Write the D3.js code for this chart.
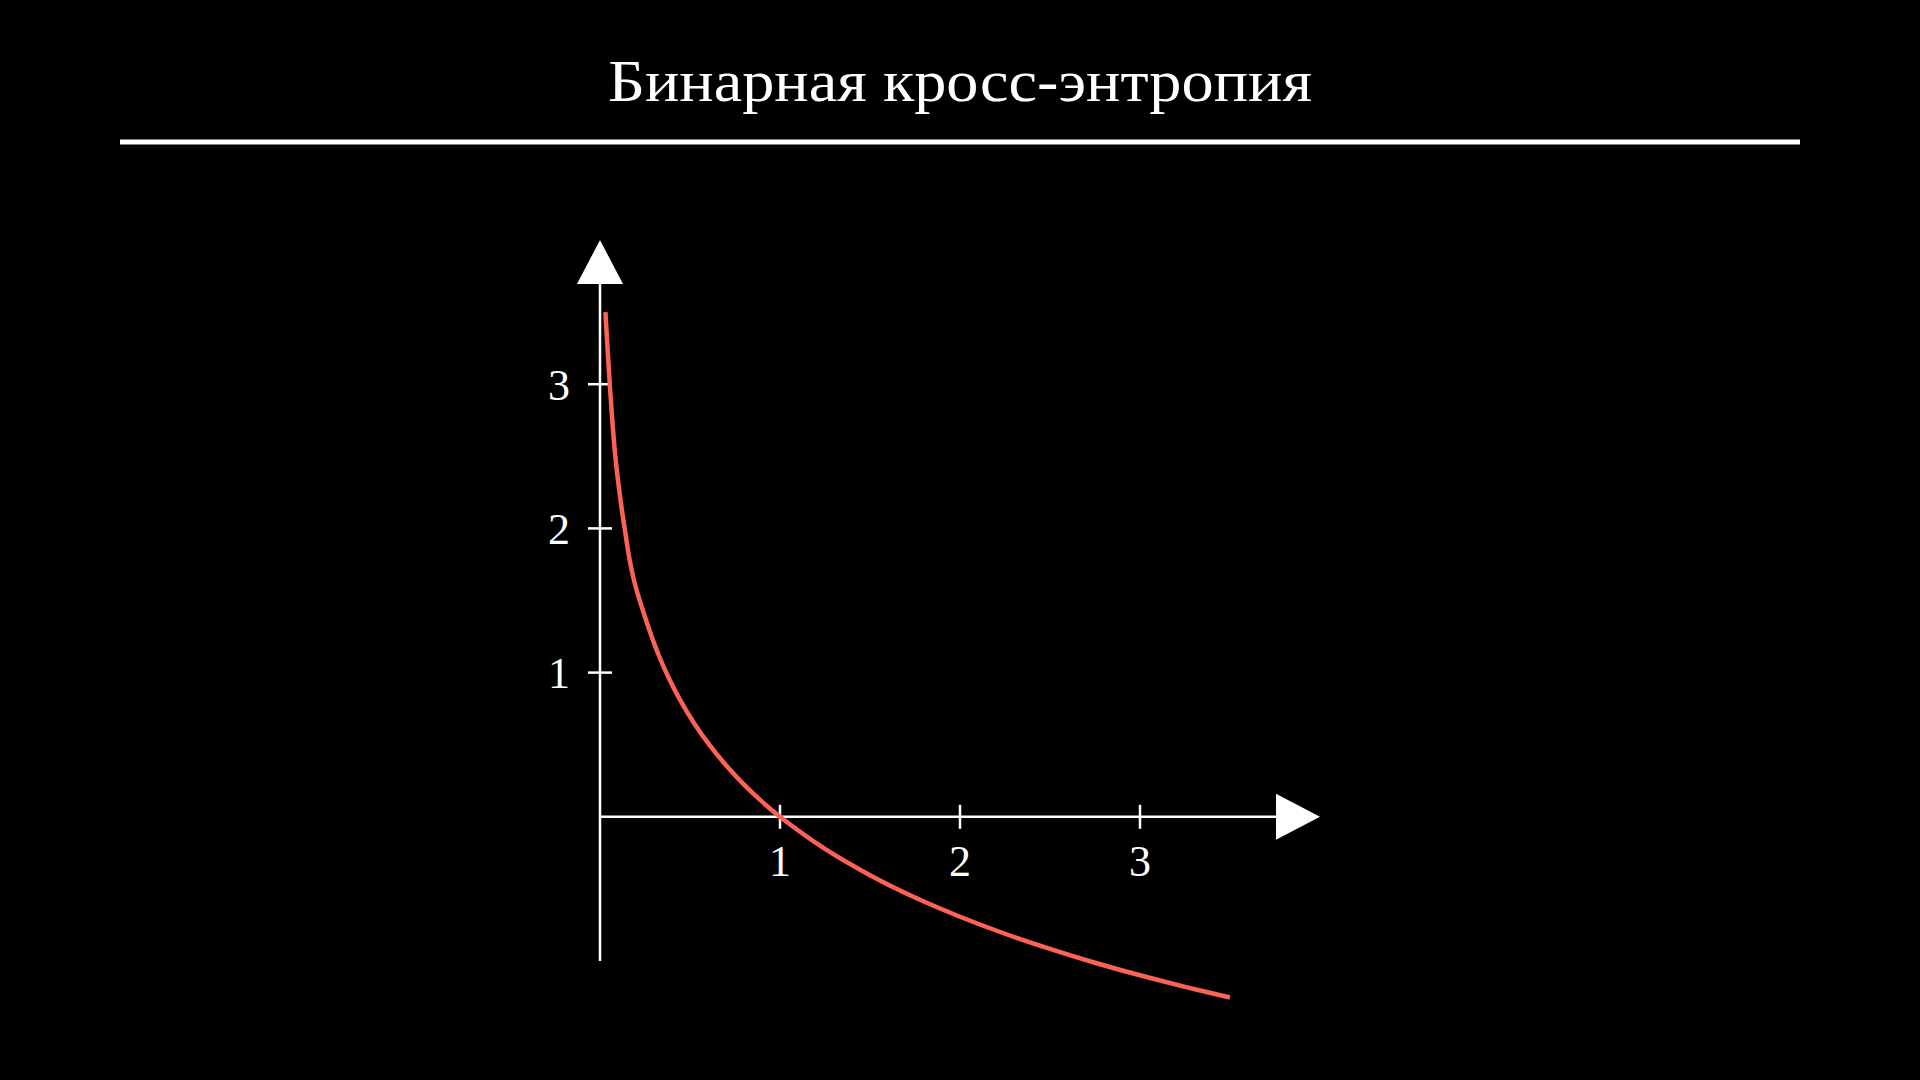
<!DOCTYPE html>
<html>
<head>
<meta charset="utf-8">
<script src="https://cdn.jsdelivr.net/npm/d3@7"></script>
<style>
  html, body { margin: 0; padding: 0; background: #000; }
  svg { display: block; }
  text { font-family: "Liberation Serif", "DejaVu Serif", serif; fill: #fff; }
</style>
</head>
<body>
<div id="chart"></div>
<script>
// values
var titleText = "Бинарная кросс-энтропия";
var xTicks = [1, 2, 3];
var yTicks = [1, 2, 3];
var xDomain = [0, 4];
var yDomain = [-1, 4];
var curveX = [0.03, 0.057, 0.085, 0.118, 0.137, 0.165, 0.193, 0.25, 0.324, 0.38, 0.444, 0.52, 0.611, 0.70, 0.796, 0.9, 1.0, 1.25, 1.5, 1.75, 2.0, 2.25, 2.5, 2.75, 3.0, 3.25, 3.5];
var curveY = [3.50, 2.95, 2.50, 2.16, 2.00, 1.78, 1.62, 1.386, 1.127, 0.968, 0.812, 0.654, 0.493, 0.357, 0.228, 0.105, 0.0, -0.223, -0.405, -0.560, -0.693, -0.811, -0.916, -1.012, -1.099, -1.179, -1.253];

var W = 1920, H = 1080;
var svg = d3.select("#chart").append("svg")
    .attr("width", W)
    .attr("height", H)
    .style("background", "#000");

// title + rule under it
svg.append("text")
    .attr("x", 960)
    .attr("y", 101)
    .attr("text-anchor", "middle")
    .attr("font-size", 60)
    .attr("textLength", 704)
    .attr("lengthAdjust", "spacingAndGlyphs")
    .text(titleText);

svg.append("line")
    .attr("x1", 120).attr("x2", 1800)
    .attr("y1", 142).attr("y2", 142)
    .attr("stroke", "#fff")
    .attr("stroke-width", 5);

var x = d3.scaleLinear().domain(xDomain).range([600, 1320]);
var y = d3.scaleLinear().domain(yDomain).range([961, 240]);

var arrowLen = 44, arrowHalf = 23;
var axes = svg.append("g").attr("stroke", "#fff").attr("stroke-width", 2.5);

// y axis
axes.append("line")
    .attr("x1", x(0)).attr("x2", x(0))
    .attr("y1", y(yDomain[0])).attr("y2", y(yDomain[1]) + arrowLen);
svg.append("path")
    .attr("fill", "#fff")
    .attr("d", "M" + x(0) + "," + y(yDomain[1]) +
        "L" + (x(0) - arrowHalf) + "," + (y(yDomain[1]) + arrowLen) +
        "L" + (x(0) + arrowHalf) + "," + (y(yDomain[1]) + arrowLen) + "Z");

// x axis
axes.append("line")
    .attr("x1", x(0)).attr("x2", x(xDomain[1]) - arrowLen)
    .attr("y1", y(0)).attr("y2", y(0));
svg.append("path")
    .attr("fill", "#fff")
    .attr("d", "M" + x(xDomain[1]) + "," + y(0) +
        "L" + (x(xDomain[1]) - arrowLen) + "," + (y(0) - arrowHalf) +
        "L" + (x(xDomain[1]) - arrowLen) + "," + (y(0) + arrowHalf) + "Z");

// ticks
axes.selectAll(".xt").data(xTicks).enter().append("line")
    .attr("x1", function(d){ return x(d); })
    .attr("x2", function(d){ return x(d); })
    .attr("y1", y(0) - 12).attr("y2", y(0) + 12);
axes.selectAll(".yt").data(yTicks).enter().append("line")
    .attr("y1", function(d){ return y(d); })
    .attr("y2", function(d){ return y(d); })
    .attr("x1", x(0) - 12).attr("x2", x(0) + 12);

svg.selectAll(".xl").data(xTicks).enter().append("text")
    .attr("x", function(d){ return x(d); })
    .attr("y", y(0) + 45)
    .attr("text-anchor", "middle")
    .attr("dominant-baseline", "central")
    .attr("font-size", 44)
    .text(function(d){ return d; });
svg.selectAll(".yl").data(yTicks).enter().append("text")
    .attr("x", x(0) - 30)
    .attr("y", function(d){ return y(d) + 1; })
    .attr("text-anchor", "end")
    .attr("dominant-baseline", "central")
    .attr("font-size", 44)
    .text(function(d){ return d; });

// the curve
var pts = curveX.map(function(v, i){ return [v, curveY[i]]; });
var line = d3.line()
    .x(function(d){ return x(d[0]); })
    .y(function(d){ return y(d[1]); })
    .curve(d3.curveCatmullRom.alpha(0.5));

svg.append("path")
    .datum(pts)
    .attr("fill", "none")
    .attr("stroke", "#FC6255")
    .attr("stroke-width", 4.5)
    .attr("d", line);
</script>
</body>
</html>
